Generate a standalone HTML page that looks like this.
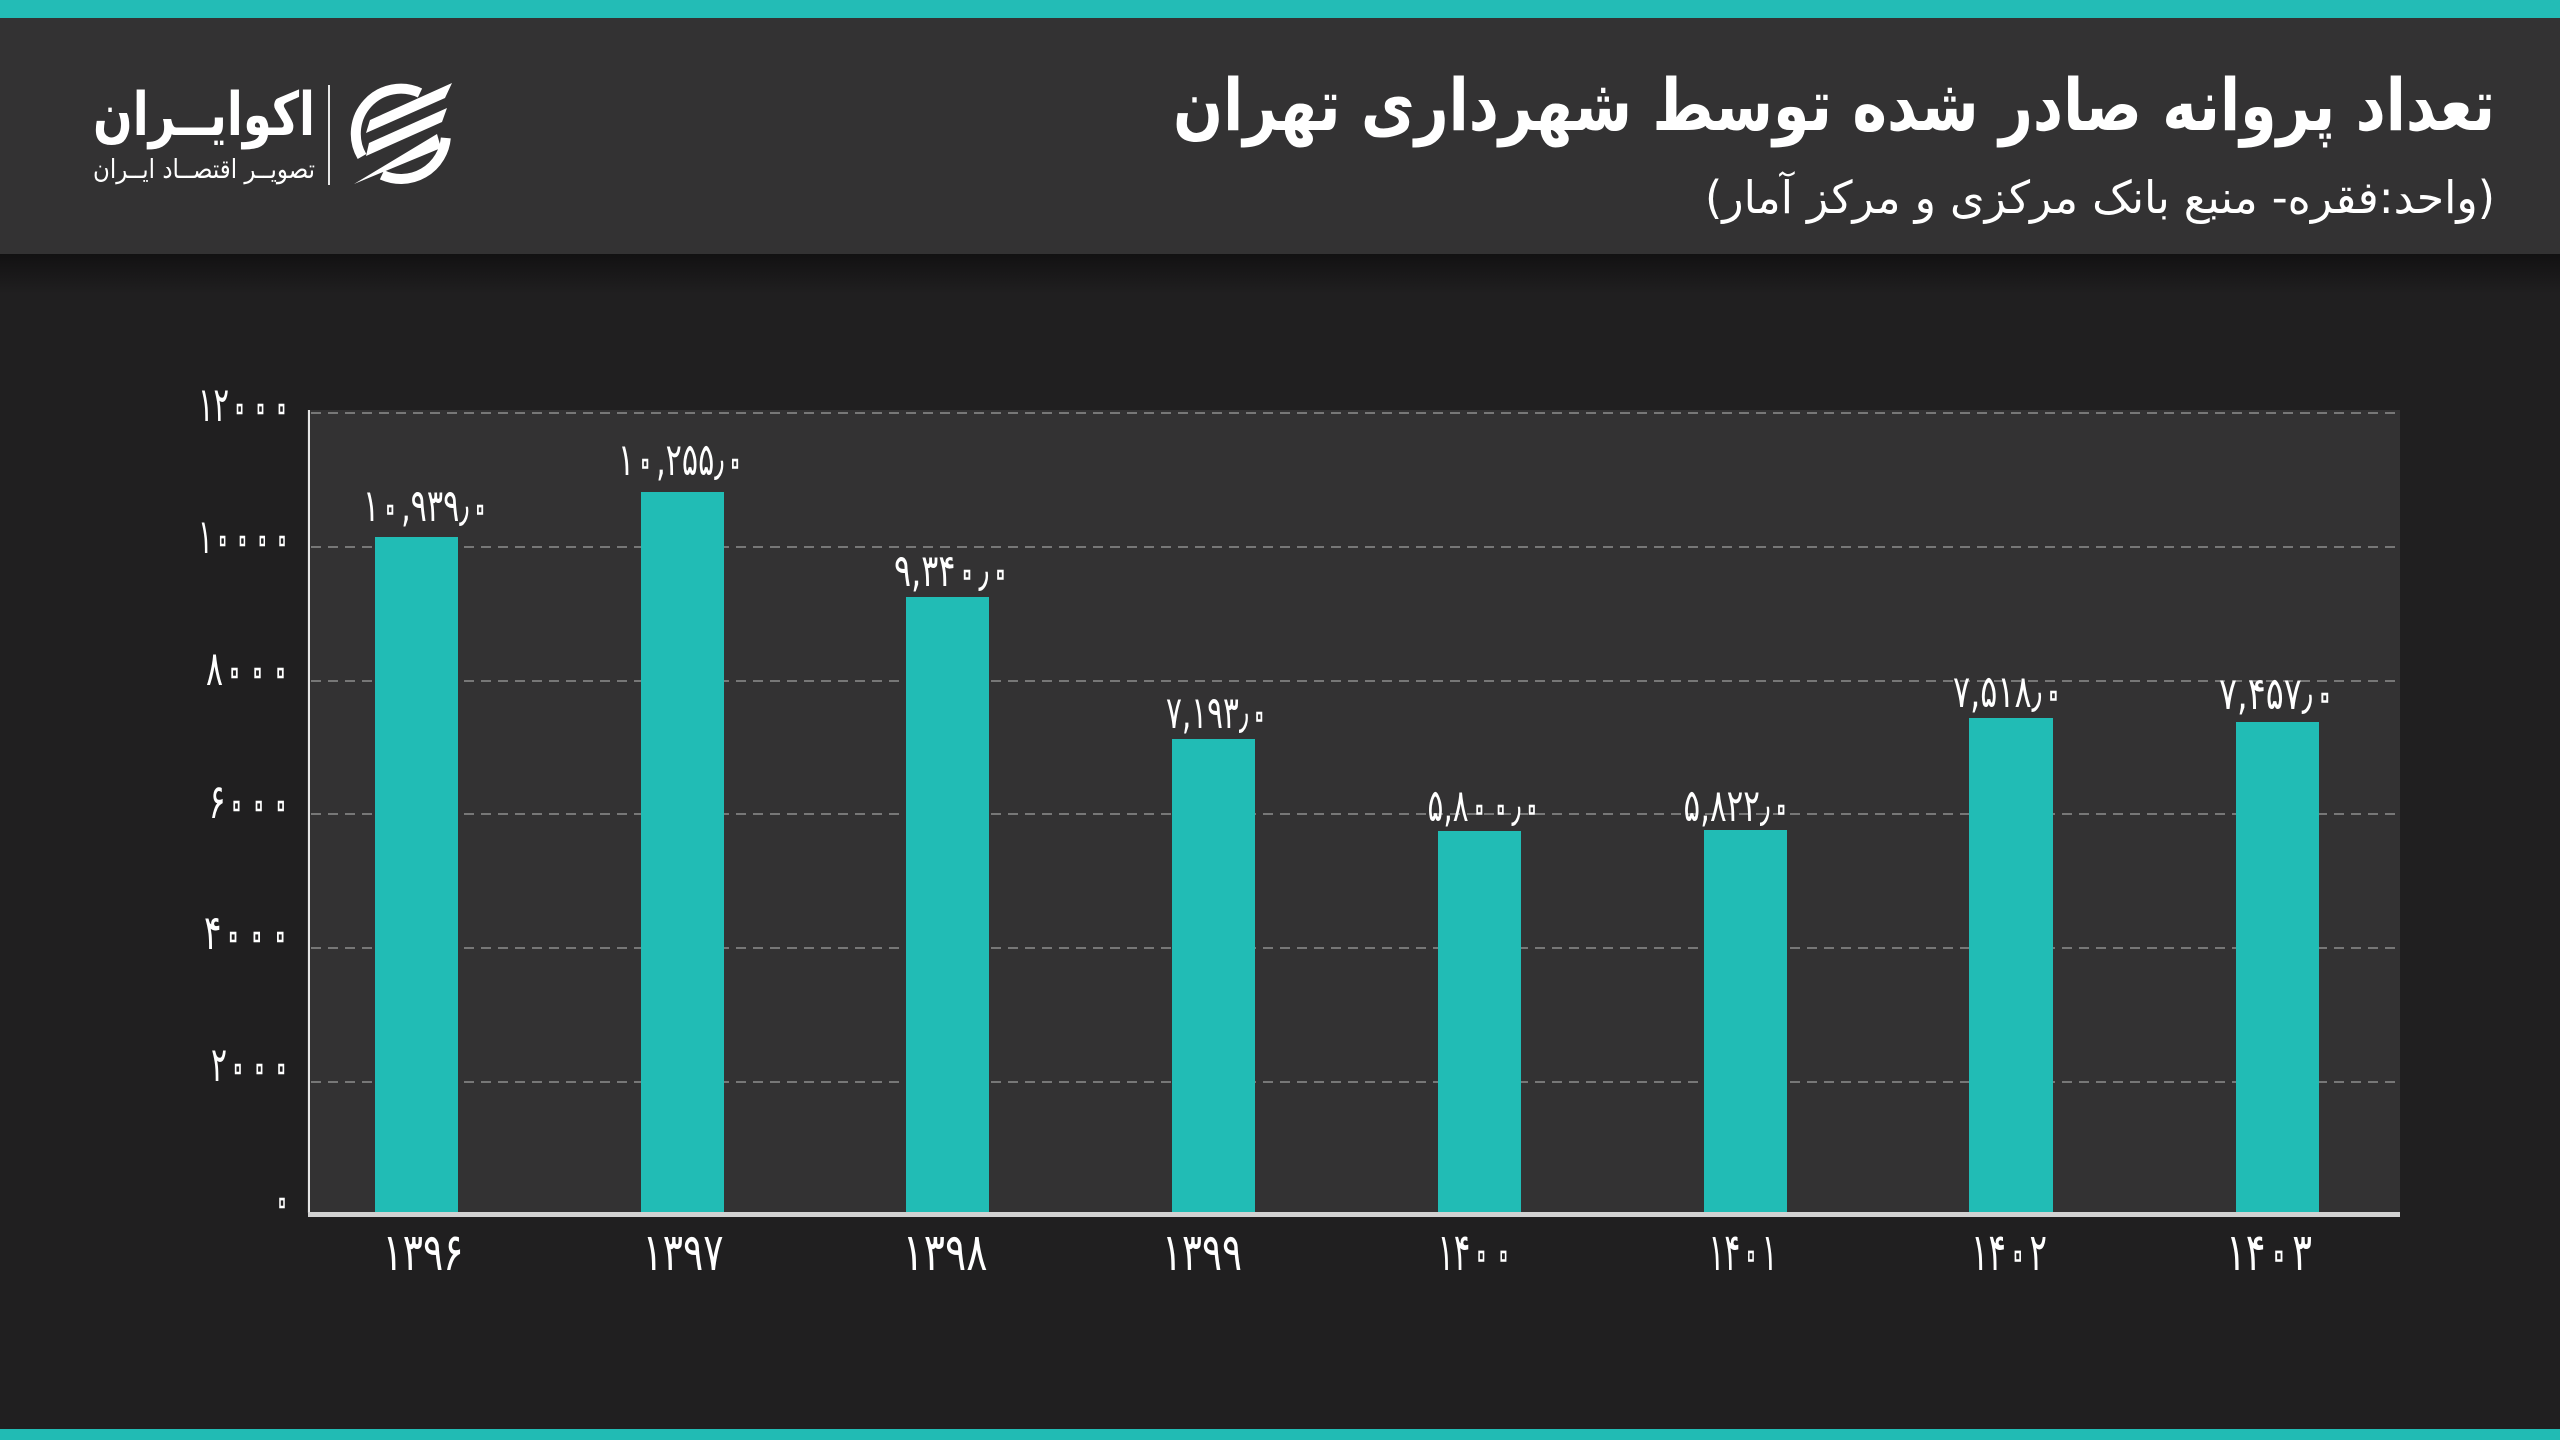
<!DOCTYPE html>
<html><head><meta charset="utf-8">
<style>
html,body{margin:0;padding:0;background:#201f20;}
svg{display:block;}
text{font-family:"DejaVu Sans","Liberation Sans",sans-serif;fill:#ffffff;}
.z{font-size:1.35em;fill:none;stroke:#ffffff;stroke-width:2.6px;baseline-shift:-6px;}
</style></head>
<body>
<svg width="2560" height="1440" viewBox="0 0 2560 1440" xmlns="http://www.w3.org/2000/svg">
<defs>
<linearGradient id="sh" x1="0" y1="0" x2="0" y2="1">
<stop offset="0" stop-color="#121112"/>
<stop offset="1" stop-color="#201f20"/>
</linearGradient>
</defs>
<rect x="0" y="0" width="2560" height="1440" fill="#201f20"/>
<!-- header -->
<rect x="0" y="18" width="2560" height="236" fill="#333233"/>
<rect x="0" y="254" width="2560" height="40" fill="url(#sh)"/>
<rect x="0" y="0" width="2560" height="18" fill="#23bcb6"/>
<rect x="0" y="1429" width="2560" height="11" fill="#21bbb4"/>

<!-- title -->
<text x="1834" y="130" font-size="72" font-weight="bold" text-anchor="middle" direction="rtl" textLength="1322" lengthAdjust="spacingAndGlyphs">تعداد پروانه صادر شده توسط شهرداری تهران</text>
<text x="2100" y="213" font-size="45" text-anchor="middle" direction="rtl" textLength="790" lengthAdjust="spacingAndGlyphs">(واحد:فقره- منبع بانک مرکزی و مرکز آمار)</text>

<!-- logo -->
<text x="204" y="135" font-size="60" font-weight="bold" text-anchor="middle" direction="rtl" textLength="222" lengthAdjust="spacingAndGlyphs">اکوایــران</text>
<text x="204" y="178" font-size="26" text-anchor="middle" direction="rtl" textLength="222" lengthAdjust="spacingAndGlyphs">تصویــر اقتصــاد ایــران</text>
<rect x="328" y="85" width="2" height="100" fill="#e8e8e8"/>
<g fill="none" stroke="#ffffff" stroke-width="10" stroke-linecap="butt">
<path d="M 420 93 A 45 45 0 0 0 362 156.5"/>
<path d="M 445.8 137.9 A 45 45 0 0 1 382 174.8"/>
</g>
<g fill="#ffffff">
<polygon points="370,120 452,83 445,98 366,133"/>
<polygon points="369,143 447,108 442,122 366,156"/>
<polygon points="354,184 437,134 441,148"/>
</g>

<!-- plot area -->
<rect x="307" y="410" width="2093" height="803" fill="#333233"/>
<g stroke="#8e8e8e" stroke-width="1.6" stroke-dasharray="10 7">
<line x1="311" y1="413" x2="2400" y2="413"/>
<line x1="311" y1="547" x2="2400" y2="547"/>
<line x1="311" y1="681" x2="2400" y2="681"/>
<line x1="311" y1="814" x2="2400" y2="814"/>
<line x1="311" y1="948" x2="2400" y2="948"/>
<line x1="311" y1="1082" x2="2400" y2="1082"/>
</g>
<!-- bars -->
<g fill="#21bcb5">
<rect x="375" y="537" width="83" height="677"/>
<rect x="641" y="492" width="83" height="722"/>
<rect x="906" y="597" width="83" height="617"/>
<rect x="1172" y="739" width="83" height="475"/>
<rect x="1438" y="831" width="83" height="383"/>
<rect x="1704" y="830" width="83" height="384"/>
<rect x="1969" y="718" width="84" height="496"/>
<rect x="2236" y="722" width="83" height="492"/>
</g>
<!-- axes -->
<rect x="308" y="410" width="2" height="806" fill="#e6e6e6"/>
<rect x="308" y="1212" width="2092" height="5" fill="#d2d2d2"/>

<!-- y labels -->
<g font-size="48" text-anchor="end">
<text x="292" y="421" textLength="94" lengthAdjust="spacingAndGlyphs">۱۲<tspan class="z">۰۰۰</tspan></text>
<text x="292" y="553" textLength="94" lengthAdjust="spacingAndGlyphs">۱<tspan class="z">۰۰۰۰</tspan></text>
<text x="292" y="685" textLength="86" lengthAdjust="spacingAndGlyphs">۸<tspan class="z">۰۰۰</tspan></text>
<text x="292" y="818" textLength="83" lengthAdjust="spacingAndGlyphs">۶<tspan class="z">۰۰۰</tspan></text>
<text x="292" y="949" textLength="88" lengthAdjust="spacingAndGlyphs">۴<tspan class="z">۰۰۰</tspan></text>
<text x="292" y="1081" textLength="81" lengthAdjust="spacingAndGlyphs">۲<tspan class="z">۰۰۰</tspan></text>
<text x="292" y="1215" textLength="20" lengthAdjust="spacingAndGlyphs"><tspan class="z">۰</tspan></text>
</g>

<!-- value labels -->
<g font-size="45" text-anchor="middle">
<text x="427" y="521" textLength="128" lengthAdjust="spacingAndGlyphs">۱<tspan class="z">۰</tspan>,۹۳۹٫<tspan class="z">۰</tspan></text>
<text x="682" y="475" textLength="128" lengthAdjust="spacingAndGlyphs">۱<tspan class="z">۰</tspan>,۲۵۵٫<tspan class="z">۰</tspan></text>
<text x="953" y="586" textLength="118" lengthAdjust="spacingAndGlyphs">۹,۳۴<tspan class="z">۰</tspan>٫<tspan class="z">۰</tspan></text>
<text x="1218" y="728" textLength="104" lengthAdjust="spacingAndGlyphs">۷,۱۹۳٫<tspan class="z">۰</tspan></text>
<text x="1485" y="821" textLength="115" lengthAdjust="spacingAndGlyphs">۵,۸<tspan class="z">۰۰</tspan>٫<tspan class="z">۰</tspan></text>
<text x="1738" y="821" textLength="109" lengthAdjust="spacingAndGlyphs">۵,۸۲۲٫<tspan class="z">۰</tspan></text>
<text x="2009" y="707" textLength="112" lengthAdjust="spacingAndGlyphs">۷,۵۱۸٫<tspan class="z">۰</tspan></text>
<text x="2278" y="709" textLength="118" lengthAdjust="spacingAndGlyphs">۷,۴۵۷٫<tspan class="z">۰</tspan></text>
</g>

<!-- x labels -->
<g font-size="52" text-anchor="middle">
<text x="423" y="1270" textLength="81" lengthAdjust="spacingAndGlyphs">۱۳۹۶</text>
<text x="683" y="1270" textLength="81" lengthAdjust="spacingAndGlyphs">۱۳۹۷</text>
<text x="945" y="1270" textLength="85" lengthAdjust="spacingAndGlyphs">۱۳۹۸</text>
<text x="1202" y="1270" textLength="80" lengthAdjust="spacingAndGlyphs">۱۳۹۹</text>
<text x="1476" y="1270" textLength="77" lengthAdjust="spacingAndGlyphs">۱۴<tspan class="z">۰۰</tspan></text>
<text x="1743" y="1270" textLength="69" lengthAdjust="spacingAndGlyphs">۱۴<tspan class="z">۰</tspan>۱</text>
<text x="2009" y="1270" textLength="76" lengthAdjust="spacingAndGlyphs">۱۴<tspan class="z">۰</tspan>۲</text>
<text x="2269" y="1270" textLength="86" lengthAdjust="spacingAndGlyphs">۱۴<tspan class="z">۰</tspan>۳</text>
</g>
</svg>
</body></html>
